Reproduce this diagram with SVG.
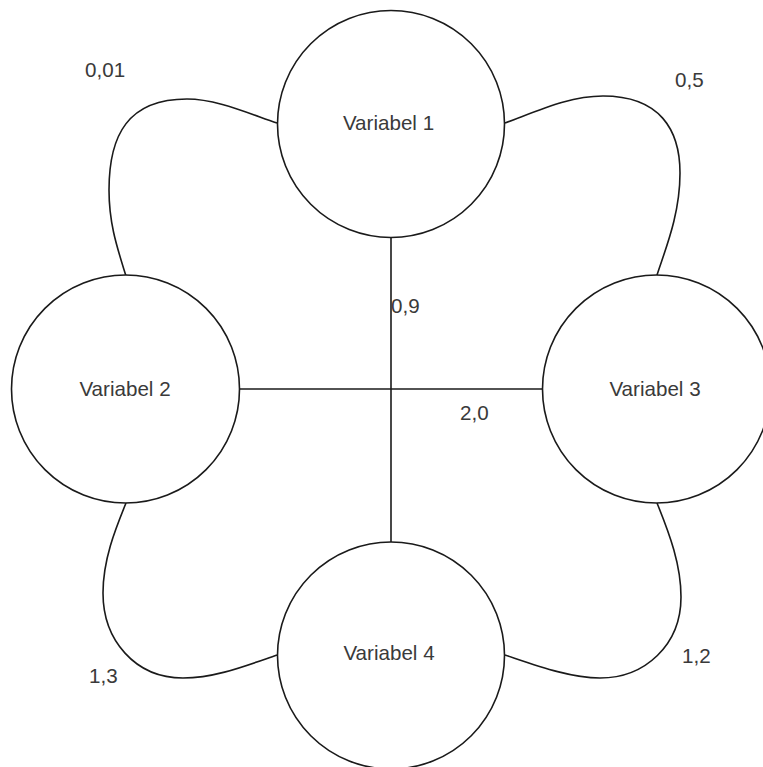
<svg xmlns="http://www.w3.org/2000/svg" width="763" height="767" viewBox="0 0 763 767">
  <style>
    .node { fill: #ffffff; stroke: #1a1a1a; stroke-width: 1.6; }
    .edge { fill: none; stroke: #1a1a1a; stroke-width: 1.6; }
    .name { font-family: "Liberation Sans", Arial, sans-serif; font-size: 20.6px; fill: #3a3a3a; text-anchor: middle; }
    .weight { font-family: "Liberation Sans", Arial, sans-serif; font-size: 20.6px; fill: #3a3a3a; }
  </style>
  <rect width="763" height="767" fill="#ffffff"/>

  <!-- connectors between the variables -->
  <g id="connectors">
    <path class="edge" d="M391,238 L391,542"/>
    <path class="edge" d="M239,389 L543,389"/>
    <path class="edge" d="M277,123 C245,112 215,99 187,99 C128,99 109,135 109,190 C109,225 118,250 126,276"/>
    <path class="edge" d="M505,123 C540,110 570,96 603,96 C660,96 680,130 680,173 C680,215 665,250 657,275"/>
    <path class="edge" d="M126,503 C115,530 103,560 103,593 C103,640 135,678 183,678 C215,678 245,666 277,655"/>
    <path class="edge" d="M657,503 C670,535 681,565 681,597 C681,645 645,678 600,678 C570,678 535,665 505,655"/>
  </g>

  <!-- connector weights -->
  <g id="weights">
    <text class="weight" x="85" y="77">0,01</text>
    <text class="weight" x="675" y="87">0,5</text>
    <text class="weight" x="391" y="313">0,9</text>
    <text class="weight" x="460" y="420">2,0</text>
    <text class="weight" x="89" y="683">1,3</text>
    <text class="weight" x="682" y="663">1,2</text>
  </g>

  <g id="variabel1">
    <circle class="node" cx="391" cy="124" r="113.5"/>
    <text class="name" x="388.5" y="130">Variabel 1</text>
  </g>
  <g id="variabel2">
    <circle class="node" cx="125.5" cy="389" r="114"/>
    <text class="name" x="125" y="396">Variabel 2</text>
  </g>
  <g id="variabel3">
    <circle class="node" cx="656.5" cy="389" r="114"/>
    <text class="name" x="655" y="396">Variabel 3</text>
  </g>
  <g id="variabel4">
    <circle class="node" cx="391" cy="655.5" r="113.5"/>
    <text class="name" x="389" y="660">Variabel 4</text>
  </g>
</svg>
